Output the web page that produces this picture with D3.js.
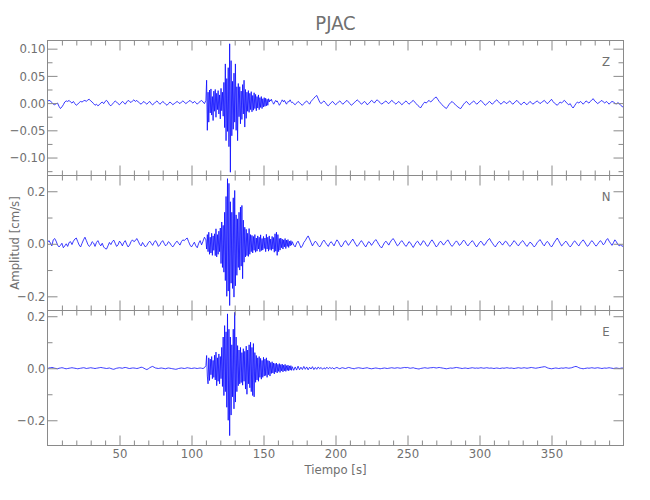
<!DOCTYPE html>
<html><head><meta charset="utf-8">
<script src="https://cdn.jsdelivr.net/npm/d3@7"></script>
<style>
body{margin:0;background:#fff}
text{font-family:"Liberation Sans Narrow","DejaVu Sans Condensed","Liberation Sans",sans-serif;fill:#707070}
</style>
</head><body>
<svg id="chart" width="650" height="500"></svg>
<script>
// ---------- texts ----------
const title = "PJAC";
const xLabel = "Tiempo [s]";
const yLabel = "Amplitud [cm/s]";
const components = ["Z", "N", "E"];

// ---------- axes ----------
const xDomain = [0, 400];
const xMajorTicks = [50, 100, 150, 200, 250, 300, 350];
const xMinorTicks = [10,20,30,40,60,70,80,90,110,120,130,140,160,170,180,190,210,220,230,240,260,270,280,290,310,320,330,340,360,370,380,390];
const yDomainZ = [-0.133, 0.115];
const yDomainN = [-0.254, 0.260];
const yDomainE = [-0.297, 0.222];
const yTicksZ = [-0.10, -0.05, 0.00, 0.05, 0.10];
const yTickLabelsZ = ["\u22120.10", "\u22120.05", "0.00", "0.05", "0.10"];
const yMinorZ = [-0.125, -0.075, -0.025, 0.025, 0.075];
const yTicksN = [-0.2, 0.0, 0.2];
const yTickLabelsN = ["\u22120.2", "0.0", "0.2"];
const yMinorN = [-0.1, 0.1];
const yTicksE = [-0.2, 0.0, 0.2];
const yTickLabelsE = ["\u22120.2", "0.0", "0.2"];
const yMinorE = [-0.1, 0.1];

// ---------- sampling (seconds) ----------
const preStart = 0, preStep = 1;
const burstStart = 110, burstStep = 0.5;
const postStart = 170, postStep = 1;
const unit = 0.001; // values below are in 1e-3 cm/s

// ---------- Z component ----------
const zPre = [3,5,4,1,-2,-3,-1,0,-6,-10,
-7,-3,2,4,3,5,2,0,3,-1,
-4,-2,1,3,2,4,5,3,6,7,
4,2,-1,-4,-2,-5,-3,0,2,-1,
3,5,2,-3,-5,-2,1,4,2,-1,
-3,0,3,1,-2,2,5,3,1,4,
6,3,5,2,0,-2,1,3,0,-2,
1,3,-1,-3,-1,2,4,1,-2,0,
3,1,-2,-4,-1,2,0,-3,-1,1,
3,1,-1,2,4,2,-1,1,3,5,
2,0,3,1,-2,1,3,5,2,-1];
const zBurst = [5,42,-50,20,-35,24,-18,26,-22,12,
-32,22,-15,25,-26,18,-12,23,-20,15,
-29,27,-14,20,-24,38,-45,72,-69,45,
-52,65,-80,109,-127,78,-60,40,-48,55,
-35,72,-50,30,-69,36,-25,30,-38,22,
-30,34,-20,42,-44,25,-28,20,-15,23,
-17,18,-12,21,-16,14,-13,19,-10,16,
-14,12,-9,15,-12,10,-8,12,-10,8,
-7,10,-6,9,-5,7,-4,8,2,6,
4,7,3,1,-2,0,3,5,2,4,
1,-1,-4,-2,1,3,6,4,2,5,
3,0,-2,1,3,2,4,6,3,1];
const zPost = [2,-1,-3,0,3,1,-2,-4,-1,2,
4,1,-2,3,6,9,12,14,8,2,
-1,2,4,1,-3,-5,-2,1,3,0,
-3,-1,2,4,1,-2,0,3,5,2,
-1,-4,-2,1,3,6,4,1,-2,0,
3,1,-3,-1,2,5,3,0,4,6,
3,1,-2,0,2,4,1,-1,2,5,
3,0,-2,1,3,0,-3,-1,2,4,
1,-2,0,3,5,2,-1,-4,-6,-9,
-5,-1,2,0,3,5,2,4,7,10,
11,7,3,0,-3,-6,-8,-10,-6,-2,
1,3,0,-2,-5,-7,-9,-10,-6,-2,
1,3,0,-3,-1,2,4,1,-2,0,
3,5,2,-1,-4,-2,1,3,0,-2,
1,4,6,3,0,-2,1,3,1,-1,
2,4,1,-2,0,3,5,2,-1,-3,
0,2,-1,-3,0,3,1,-2,0,2,
4,2,-1,1,3,5,2,-1,1,4,
7,3,0,-2,-4,-1,2,0,3,5,
2,-1,-3,-1,-6,-9,-5,-1,2,0,
3,1,-2,1,4,2,0,3,6,8,
4,2,-1,1,3,5,2,0,3,1,
-2,1,3,2,0,-2,1,-1,-4,-6,
-8];

// ---------- N component ----------
const nPre = [5,12,3,-8,15,20,10,-5,-12,-6,
2,-15,-8,0,-10,5,8,-3,10,18,
22,8,-5,-12,2,15,25,12,-2,-10,
-5,8,3,-10,5,12,0,-8,2,-12,
-18,-20,-8,5,-3,8,14,2,-10,-4,
10,3,-8,5,12,-2,-12,-5,8,15,
8,12,20,10,-2,-8,5,-4,-12,-6,
4,10,2,-6,5,12,3,-10,-4,6,
12,2,-8,-2,8,3,-6,-12,-4,5,
10,2,-5,8,15,12,18,22,8,-5,
-12,-3,6,-8,-15,2,12,-4,10,25];
const nBurst = [15,-20,35,-30,44,-40,25,-35,40,-44,
30,-25,38,-45,57,-50,35,-40,48,-30,
60,-75,83,-90,70,-108,120,-140,180,-200,
248,-180,230,-235,160,-150,120,-170,175,-203,
203,-160,110,-120,95,-90,120,-100,140,-85,
146,-133,90,-70,63,-50,55,-45,40,-48,
58,-40,35,-30,32,-35,28,-25,35,-32,
22,-28,30,-20,25,-30,34,-26,20,-24,
28,-18,22,-30,36,-20,25,-28,30,-22,
18,-25,28,-20,24,-32,38,-28,44,-44,
35,-30,20,-24,22,-15,18,-20,15,-12,
20,-18,14,-10,16,-14,10,-8,12,-5];
const nPost = [8,-5,-12,3,10,-2,-15,-8,5,12,
22,30,18,5,-8,2,10,4,-6,-12,
-4,8,14,5,-3,-10,2,8,0,-8,
5,15,8,-4,-12,-5,6,12,3,-6,
2,10,18,8,-2,-10,-4,5,12,4,
-5,-12,-2,8,4,-6,2,10,16,8,
-2,-10,-16,-6,4,10,3,-5,6,14,
20,12,2,-8,-3,6,12,5,-4,-10,
-2,8,4,-6,-14,-4,5,10,2,-6,
3,12,6,-4,-10,-2,8,15,7,-3,
-12,-6,4,10,3,-5,2,9,15,6,
-4,-10,-3,5,11,4,-6,-2,7,14,
8,-2,-8,0,6,12,5,-5,-12,-4,
5,10,3,-6,-2,8,15,20,10,2,
-6,-12,-3,5,9,2,-5,3,10,6,
-3,-10,-5,4,12,6,-2,-8,0,7,
12,5,-4,-10,-2,6,3,-5,-12,-6,
4,10,16,8,-2,-8,2,9,4,-6,
-12,-4,6,14,22,12,2,-8,-3,5,
10,3,-6,-12,-5,4,11,6,-3,-8,
2,9,15,7,-2,-10,-4,5,12,6,
-3,-9,-2,6,12,5,-4,2,14,20,
10,2,-6,4,15,8,-2,-8,-4,-10,
-6];

// ---------- E component ----------
const ePre = [-2,1,2,3,2,0,-1,-2,0,1,
2,1,-1,-2,-1,0,1,2,1,0,
-1,-2,-1,0,1,2,1,-1,0,1,
2,1,0,-1,0,1,2,3,2,1,
0,-1,0,1,-1,-3,-4,-2,0,1,
2,1,0,2,3,2,0,-1,0,1,
1,0,-1,0,2,4,3,0,-3,-5,
-2,2,5,7,4,1,0,-1,0,1,
0,-1,-2,0,1,0,-1,-2,-3,-4,
-3,-1,0,1,0,-1,0,2,1,0,
-1,0,1,0,-1,0,1,0,-1,2];
const eBurst = [10,49,-30,-60,40,-47,35,-25,45,-40,
30,-35,50,-45,62,-67,40,-50,55,-60,
45,-40,80,-70,120,-105,164,-90,140,-150,
209,-200,150,-259,120,-180,90,-110,150,-156,
215,-130,120,-90,87,-67,70,-60,80,-55,
60,-65,75,-50,65,-80,85,-100,70,-60,
90,-75,100,-90,80,-105,95,-110,60,-54,
49,-45,40,-50,45,-35,38,-42,30,-35,
42,-30,35,-28,40,-35,30,-25,28,-30,
22,-20,25,-18,20,-22,18,-15,20,-18,
15,-12,18,-16,14,-10,16,-14,12,-10,
15,-12,10,-8,12,-10,9,-7,10,-8];
const ePost = [6,-8,5,-7,8,-6,4,-5,7,-4,
5,-6,4,-3,6,-5,3,-4,5,-2,
3,-4,2,-3,4,-2,3,-1,2,-3,
1,3,0,-2,1,2,0,-1,1,3,
2,0,-1,-2,0,1,2,1,0,-1,
0,1,2,0,-1,-2,-1,0,1,0,
-1,-2,-1,0,1,0,-1,0,1,2,
1,0,1,2,1,0,1,2,3,2,
3,1,0,1,2,0,-1,-2,-3,-1,
0,1,2,1,0,1,2,2,3,2,
1,2,3,2,1,0,-1,-2,-1,0,
1,0,1,2,3,2,1,0,-1,0,
1,0,-1,0,1,2,1,0,1,0,
1,2,1,0,1,2,1,0,1,0,
-1,0,1,0,-1,0,1,0,1,2,
1,0,1,0,-1,0,1,2,1,0,
1,2,1,0,1,2,3,2,1,0,
1,2,3,4,5,6,5,2,0,-1,
-2,-1,0,1,0,-1,0,1,0,1,
2,1,0,1,2,4,6,7,5,2,
0,-1,-2,-1,0,1,0,1,2,1,
0,1,2,1,0,-1,0,1,0,1,
2,1,0,-1,0,1,0,-1,0,1,
0];

// ---------- build series ----------
function series(pre, burst, post) {
  const pts = [];
  pre.forEach((v, i) => pts.push([preStart + i * preStep, v * unit]));
  burst.forEach((v, i) => pts.push([burstStart + i * burstStep, v * unit]));
  post.forEach((v, i) => pts.push([postStart + i * postStep, v * unit]));
  return pts;
}
const panels = [
  {name: components[0], data: series(zPre, zBurst, zPost), dom: yDomainZ, ticks: yTicksZ, labels: yTickLabelsZ, minor: yMinorZ},
  {name: components[1], data: series(nPre, nBurst, nPost), dom: yDomainN, ticks: yTicksN, labels: yTickLabelsN, minor: yMinorN},
  {name: components[2], data: series(ePre, eBurst, ePost), dom: yDomainE, ticks: yTicksE, labels: yTickLabelsE, minor: yMinorE}
];

// ---------- layout ----------
const svg = d3.select("#chart");
const left = 47.5, right = 623.5, top0 = 40.5, ph = 135;
const axisColor = "#8a8a8a";
const x = d3.scaleLinear().domain(xDomain).range([left, right]);

panels.forEach((p, k) => {
  const t = top0 + k * ph, b = t + ph;
  const y = d3.scaleLinear().domain(p.dom).range([b, t]);
  const g = svg.append("g");

  g.append("clipPath").attr("id", "clip" + k)
    .append("rect").attr("x", left).attr("y", t).attr("width", right - left).attr("height", ph);

  const line = d3.line().x(d => x(d[0])).y(d => y(d[1]));
  g.append("path").datum(p.data)
    .attr("clip-path", `url(#clip${k})`)
    .attr("fill", "none").attr("stroke", "#0a0aff").attr("stroke-width", 0.8)
    .attr("stroke-linejoin", "round")
    .attr("d", line);

  // frame
  g.append("rect").attr("x", left).attr("y", t).attr("width", right - left).attr("height", ph)
    .attr("fill", "none").attr("stroke", axisColor).attr("stroke-width", 1);

  const styleAxis = sel => {
    sel.select(".domain").remove();
    sel.selectAll("line").attr("stroke", axisColor);
    sel.selectAll("text").attr("font-size", 13).attr("fill", "#707070")
      .attr("font-family", null);
  };

  // y axes
  const lbl = d => p.labels[p.ticks.indexOf(d)];
  g.append("g").attr("transform", `translate(${left},0)`)
    .call(d3.axisLeft(y).tickValues(p.ticks).tickFormat(lbl).tickSize(-10).tickPadding(2)).call(styleAxis);
  g.append("g").attr("transform", `translate(${left},0)`)
    .call(d3.axisLeft(y).tickValues(p.minor).tickFormat("").tickSize(-5)).call(styleAxis);
  g.append("g").attr("transform", `translate(${right},0)`)
    .call(d3.axisRight(y).tickValues(p.ticks).tickFormat("").tickSize(-10)).call(styleAxis);
  g.append("g").attr("transform", `translate(${right},0)`)
    .call(d3.axisRight(y).tickValues(p.minor).tickFormat("").tickSize(-5)).call(styleAxis);

  // x axes
  g.append("g").attr("transform", `translate(0,${t})`)
    .call(d3.axisTop(x).tickValues(xMajorTicks).tickFormat("").tickSize(-10)).call(styleAxis);
  g.append("g").attr("transform", `translate(0,${t})`)
    .call(d3.axisTop(x).tickValues(xMinorTicks).tickFormat("").tickSize(-5)).call(styleAxis);
  g.append("g").attr("transform", `translate(0,${b})`)
    .call(d3.axisBottom(x).tickValues(xMajorTicks).tickFormat(k === 2 ? d3.format("d") : "").tickSize(-10).tickPadding(3)).call(styleAxis);
  g.append("g").attr("transform", `translate(0,${b})`)
    .call(d3.axisBottom(x).tickValues(xMinorTicks).tickFormat("").tickSize(-5)).call(styleAxis);

  // component label
  g.append("text").attr("x", 606).attr("y", t + 25.5).attr("text-anchor", "middle")
    .attr("font-size", 13).text(p.name);
});

// titles
svg.append("text").attr("x", (left + right) / 2).attr("y", 30).attr("text-anchor", "middle")
  .attr("font-size", 20).attr("fill", "#7a7a7a").text(title);
svg.append("text").attr("x", (left + right) / 2).attr("y", 474).attr("text-anchor", "middle")
  .attr("font-size", 13).text(xLabel);
svg.append("text").attr("transform", "translate(18.5,243) rotate(-90)").attr("text-anchor", "middle")
  .attr("font-size", 13).text(yLabel);
</script>
</body></html>
